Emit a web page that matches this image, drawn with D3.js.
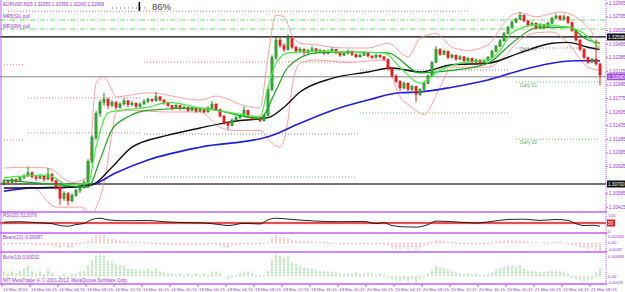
<!DOCTYPE html>
<html lang="en">
<head>
<meta charset="UTF-8">
<title>EURUSD M15</title>
<script src="https://d3js.org/d3.v7.min.js"></script>
<style>
  body { margin: 0; background: #fff; }
  svg text { font-family: "Liberation Sans", Arial, sans-serif; }
</style>
</head>
<body>
<script>
// ---- data (prices in pips above 1.30000) ----
const ohlc = [
  [71,76,68,74],[74,76,70,72],[72,78,71,76],[76,77,71,73],[73,80,72,78],[78,82,76,80],[80,91,79,84],[84,86,77,79],
  [79,80,74,77],[77,83,76,80],[80,81,73,76],[76,90,75,82],[82,84,72,74],[74,75,63,66],[66,68,44,52],[52,61,49,58],
  [58,60,43,49],[49,58,47,56],[56,64,54,62],[62,68,59,66],[66,75,64,72],[72,101,70,98],[98,131,95,128],[128,161,125,158],
  [158,175,154,172],[172,184,168,176],[176,178,164,168],[168,175,166,172],[172,174,163,166],[166,172,164,170],[170,177,168,174],[174,175,166,169],
  [169,174,167,171],[171,172,164,167],[167,172,165,170],[170,176,169,173],[173,178,171,176],[176,177,172,174],[174,185,173,179],[179,180,173,175],
  [175,176,169,171],[171,173,166,168],[168,169,162,165],[165,170,164,168],[168,169,162,164],[164,168,163,166],[166,167,160,162],[162,167,161,165],
  [165,166,159,161],[161,165,160,163],[163,164,158,160],[160,167,159,165],[165,174,164,170],[170,171,161,163],[163,164,153,155],[155,156,144,146],
  [146,148,138,143],[143,152,142,150],[150,155,148,153],[153,158,151,156],[156,167,155,162],[162,163,152,154],[154,156,149,151],[151,155,150,153],
  [153,154,147,149],[149,158,148,156],[156,191,155,188],[188,231,186,228],[228,254,225,250],[250,253,240,243],[243,246,235,238],[238,257,237,252],
  [252,253,239,241],[241,243,233,236],[236,241,234,238],[238,240,231,234],[234,239,233,237],[237,242,235,239],[239,240,233,235],[235,239,234,237],
  [237,238,231,233],[233,238,232,236],[236,241,235,238],[238,239,232,234],[234,235,229,231],[231,235,230,233],[233,238,232,236],[236,237,230,232],
  [232,233,227,229],[229,233,228,231],[231,236,230,234],[234,235,228,230],[230,231,226,228],[228,233,227,231],[231,232,227,229],[229,230,224,226],
  [226,227,212,214],[214,216,203,205],[205,207,196,198],[198,200,186,190],[190,198,188,196],[196,197,186,188],[188,194,186,192],[192,193,172,182],
  [182,190,180,188],[188,198,187,196],[196,207,195,205],[205,224,204,222],[222,242,221,238],[238,240,230,232],[232,238,231,236],[236,237,226,228],
  [228,233,227,231],[231,232,224,226],[226,231,225,229],[229,230,222,224],[224,229,223,227],[227,228,220,222],[222,227,221,225],[225,226,219,221],
  [221,226,220,224],[224,230,223,228],[228,238,227,236],[236,244,235,242],[242,251,241,249],[249,260,248,258],[258,268,257,266],[266,274,265,272],
  [272,278,271,276],[276,285,275,281],[281,282,272,274],[274,275,266,268],[268,273,267,271],[271,272,263,265],[265,271,264,269],[269,270,264,266],
  [266,273,265,271],[271,279,270,277],[277,283,276,280],[280,281,274,276],[276,282,275,279],[279,280,270,272],[272,273,260,262],[262,263,248,250],
  [250,251,236,238],[238,240,226,228],[228,229,220,222],[222,228,221,226],[226,250,218,220],[220,222,193,206]
];

// indicator lines: [bar, pips]
const maBlue = [[0,61],[7,65],[16,66],[22,69],[28,84],[36,100],[49,116],[66,129],[74,146],[82,162],[91,175],[99,184],[104,185],[112,191],[121,200],[129,212],[137,221],[143,224],[149,224]];
const maBlack = [[0,65],[16,66],[22,69],[27,91],[32,116],[41,131],[49,140],[57,148],[66,153],[70,166],[74,185],[82,202],[91,210],[97,215],[104,210],[112,219],[121,221],[129,234],[137,246],[141,247],[146,241],[149,238]];
const maFast = [[0,78],[11,81],[16,69],[21,71],[23,116],[26,159],[29,162],[36,166],[41,172],[49,165],[57,159],[64,154],[66,191],[68,221],[71,234],[78,236],[86,235],[95,234],[99,216],[104,196],[109,212],[114,221],[121,225],[124,237],[127,259],[133,269],[141,266],[146,254],[149,238]];
const maSlow = [[0,75],[16,68],[21,66],[24,100],[27,138],[31,154],[36,162],[49,165],[64,152],[68,187],[71,216],[78,234],[86,235],[96,234],[104,209],[112,212],[121,221],[127,246],[133,265],[141,266],[146,250],[149,246]];
const bandUpper = [[0,90],[6,91],[11,90],[17,72],[21,79],[23,196],[25,204],[27,187],[28,179],[36,184],[49,175],[53,180],[60,168],[64,165],[66,230],[68,281],[70,279],[72,256],[74,246],[78,244],[82,241],[86,240],[91,240],[96,246],[101,229],[104,252],[108,258],[112,241],[116,237],[121,244],[125,271],[127,281],[129,284],[133,279],[139,285],[144,275],[147,259],[149,241]];
const bandLower = [[0,62],[7,66],[13,41],[19,41],[21,35],[22,28],[23,40],[25,71],[27,134],[28,160],[32,162],[41,160],[49,160],[54,141],[57,137],[64,137],[67,121],[69,116],[71,150],[72,191],[74,221],[78,225],[86,222],[95,225],[99,179],[102,166],[105,157],[109,191],[112,216],[121,216],[125,229],[129,250],[133,259],[137,260],[141,246],[146,216],[149,212]];

// RSI [bar, value]
const rsi = [[0,55],[4,58],[8,52],[12,46],[14,34],[16,30],[18,40],[20,48],[22,72],[24,80],[26,70],[30,64],[36,66],[40,58],[46,52],[50,50],[54,40],[56,34],[60,48],[64,44],[66,70],[68,80],[72,72],[78,62],[84,58],[90,60],[93,46],[95,52],[97,34],[100,26],[103,24],[106,40],[108,62],[112,58],[118,50],[122,60],[126,72],[130,74],[134,66],[138,72],[141,66],[143,46],[145,34],[147,36],[149,30]];

// Bears / Bulls power per bar, in pips
const bears = [-2,-1,-2,-1,-1,-2,-1,-2,-3,-2,-3,-2,-3,-4,-5,-3,-5,-4,-2,-1,-1,
  2,5,8,8,7,5,4,3,3,2,2,1,1,1,1,
  -1,-1,-2,-1,-2,-2,-3,-2,-2,-3,-2,-2,-3,-2,-3,-2,-1,-2,-3,-4,-5,-3,-2,-2,-1,-2,-2,-1,-2,-1,
  1,5,7,6,5,4,3,3,2,2,2,1,1,1,1,
  -1,-1,0,-1,-2,-1,-1,-2,-2,-1,-1,-2,-2,-1,-2,
  -3,-5,-6,-6,-5,-6,-5,-6,-5,-3,-2,
  1,3,3,2,1,1,
  -1,-1,-2,-1,-2,-2,-1,-2,-1,
  1,2,2,3,3,3,3,2,2,1,1,1,0,1,
  -1,0,1,1,0,-1,
  -2,-3,-4,-5,-6,-5,-6,-8.7];
const bulls = [2,1,2,1,2,3,4,2,1,2,1,3,1,0,-1,1,-1,1,1,2,2,
  4,6,8,8.5,8,6,5.5,4.5,4,4,3,3,2.5,2.5,2.5,3,2,3,2,1.5,
  1,1,0.5,1,0.5,1,0.5,1,0.5,1,0.5,1.5,2,1,0,-1,-0.5,0.5,1,1.5,2,1,0.5,0.5,0.5,
  2,6,8.5,8,7,7.5,5.5,4.5,4,3.5,3,3,2.5,2,2,2,1.5,1.5,1,1,
  1,1,1.5,1,1,1.5,1,0.5,1,0.5,
  -0.5,-1,-1.5,-2,-1,-2,-1,-2.5,-1,0.5,1,
  2.5,4,3.5,3,2.5,2,
  1.5,1,1,1,0.5,1,0.5,0.5,1,
  1.5,2.5,3,3.5,4,4,3.5,4,3,2.5,2,2,1.5,1.5,
  2,2.5,2.5,2,1.5,1,
  -0.5,-1,-1.5,-2,-1.5,-1,1.5,3.2];

// horizontal levels (price)
const pullLevels = [1.32750, 1.32638];
const resistLevel = 1.32538;
const bidPrice = 1.32040;
const supportLevel = 1.30700;
// pivot segments [fromBar, toBar, price]
const pinkPivots = [[0,5,1.32190],[0,5,1.31250],[6,34,1.31775],[6,34,1.31338],[35,88,1.32225],[1,116,1.32860]];
const grayPivots = [[35,89,1.31325],[89,126,1.32125],[128,149,1.32400]];
const greenPivots = [[35,88,1.30788],[89,126,1.31588],[128,149,1.31975],[128,149,1.31260]];

const priceTicks = [1.32965,1.32795,1.32625,1.32455,1.32285,1.32115,1.31945,1.31775,1.31605,1.31435,1.31265,1.31095,1.30925,1.30585,1.30415];
const timeLabels = ["15 Mar 2012","16 Mar 00:15","16 Mar 04:15","16 Mar 08:15","16 Mar 12:15","16 Mar 16:15","16 Mar 20:15",
  "19 Mar 00:15","19 Mar 04:15","19 Mar 08:15","19 Mar 12:15","19 Mar 16:15","19 Mar 20:15",
  "20 Mar 00:15","20 Mar 04:15","20 Mar 08:15","20 Mar 12:15","20 Mar 16:15","20 Mar 20:15",
  "21 Mar 00:15","21 Mar 04:15","21 Mar 08:15"];
const labelEvery = 7;

// ---- layout ----
const width = 625, height = 292;
const axisX = 606;
const purple = "#c25cff", textPurple = "#9a30d8";
const toPrice = p => 1.30 + p / 10000;

const svg = d3.select("body").append("svg")
  .attr("width", width).attr("height", height);

const x = d3.scaleLinear().domain([0, 149]).range([4, 600]);
const y = d3.scaleLinear().domain([1.3035, 1.3300]).range([212, 0]);
const yRsi = d3.scaleLinear().domain([0, 100]).range([231, 215]);
const yBears = d3.scaleLinear().domain([-0.00087, 0.00094]).range([252, 233]);
const yBulls = d3.scaleLinear().domain([-0.00029, 0.00088]).range([284, 253]);

const main = svg.append("g");
main.append("clipPath").attr("id", "mainclip").append("rect")
  .attr("x", 0).attr("y", 0).attr("width", axisX).attr("height", 211);
const plot = main.append("g").attr("clip-path", "url(#mainclip)");

// pivot segments
function seg(list, color) {
  plot.selectAll(null).data(list).enter().append("line")
    .attr("x1", d => x(d[0])).attr("x2", d => x(d[1]))
    .attr("y1", d => y(d[2])).attr("y2", d => y(d[2]))
    .attr("stroke", color).attr("stroke-width", 1).attr("stroke-dasharray", "1,2");
}
seg(pinkPivots, "#ff7070");
seg(grayPivots, "#8a8a8a");
seg(greenPivots, "#66cc66");

// full width lines
plot.selectAll(null).data(pullLevels).enter().append("line")
  .attr("x1", 0).attr("x2", axisX).attr("y1", d => y(d)).attr("y2", d => y(d))
  .attr("stroke", "#66dd66").attr("stroke-dasharray", "5,2,1,2");
plot.append("line").attr("x1", 0).attr("x2", axisX).attr("y1", y(resistLevel)).attr("y2", y(resistLevel))
  .attr("stroke", "#000").attr("stroke-width", 1.2);
plot.append("line").attr("x1", 0).attr("x2", axisX).attr("y1", y(bidPrice)).attr("y2", y(bidPrice))
  .attr("stroke", "#888").attr("stroke-width", 1);
plot.append("line").attr("x1", 0).attr("x2", axisX).attr("y1", y(supportLevel)).attr("y2", y(supportLevel))
  .attr("stroke", "#444").attr("stroke-width", 1.5);

// daily labels
const dl = plot.append("g").attr("font-size", 4.6);
dl.append("text").attr("x", x(129)).attr("y", y(1.32400) + 3).attr("fill", "#888").text("Daily PP");
dl.append("text").attr("x", x(129)).attr("y", y(1.31975) + 5).attr("fill", "#55bb55").text("Daily S1");
dl.append("text").attr("x", x(129)).attr("y", y(1.31260) + 5).attr("fill", "#55bb55").text("Daily S2");

// bands and moving averages
function curve(pts, color, w) {
  plot.append("path").datum(pts)
    .attr("d", d3.line().x(d => x(d[0])).y(d => y(toPrice(d[1]))).curve(d3.curveMonotoneX))
    .attr("fill", "none").attr("stroke", color).attr("stroke-width", w);
}
curve(bandUpper, "#ff8888", 0.8);
curve(bandLower, "#ff8888", 0.8);
curve(maBlue, "#1e1ee6", 1.6);
curve(maBlack, "#111", 1.4);

// candles
const bars = plot.selectAll(".c").data(ohlc).enter().append("g");
bars.append("line")
  .attr("x1", (d, i) => x(i)).attr("x2", (d, i) => x(i))
  .attr("y1", d => y(toPrice(d[1]))).attr("y2", d => y(toPrice(d[2])))
  .attr("stroke", d => d[3] >= d[0] ? "#108a10" : "#ff1a1a").attr("stroke-width", 1);
bars.append("rect")
  .attr("x", (d, i) => x(i) - 1.1).attr("width", 2.2)
  .attr("y", d => y(toPrice(Math.max(d[0], d[3]))))
  .attr("height", d => Math.max(1, Math.abs(y(toPrice(d[0])) - y(toPrice(d[3])))))
  .attr("fill", d => d[3] >= d[0] ? "#2fb52f" : "#ff1a1a")
  .attr("stroke", d => d[3] >= d[0] ? "#0b5e0b" : "#e00000").attr("stroke-width", 0.4);

curve(maSlow, "#1aa81a", 1.2);
curve(maFast, "#44ee44", 1.2);

// ---- sub-windows ----
// RSI
svg.append("rect").attr("x", 0).attr("width", axisX).attr("y", yRsi(60)).attr("height", yRsi(40) - yRsi(60))
  .attr("fill", "#ffdede");
svg.append("line").attr("x1", 0).attr("x2", axisX).attr("y1", yRsi(50)).attr("y2", yRsi(50))
  .attr("stroke", "#e02020").attr("stroke-width", 1.4);
svg.append("path").datum(rsi)
  .attr("d", d3.line().x(d => x(d[0])).y(d => yRsi(d[1])).curve(d3.curveMonotoneX))
  .attr("fill", "none").attr("stroke", "#111").attr("stroke-width", 0.9);

// Bears
svg.selectAll(".bear").data(bears).enter().append("line")
  .attr("x1", (d, i) => x(i)).attr("x2", (d, i) => x(i))
  .attr("y1", yBears(0)).attr("y2", d => yBears(d / 10000))
  .attr("stroke", "#ff6a6a").attr("stroke-width", 1).attr("stroke-dasharray", "1,0.6");

// Bulls
svg.selectAll(".bull").data(bulls).enter().append("line")
  .attr("x1", (d, i) => x(i)).attr("x2", (d, i) => x(i))
  .attr("y1", yBulls(0)).attr("y2", d => yBulls(d / 10000))
  .attr("stroke", "#4cc24c").attr("stroke-width", 1).attr("stroke-dasharray", "1,0.6");

// frames
[212, 233, 252, 284].forEach(v => {
  svg.append("line").attr("x1", 0).attr("x2", axisX + 1).attr("y1", v).attr("y2", v)
    .attr("stroke", purple).attr("stroke-width", 1.6);
});
svg.append("line").attr("x1", 1).attr("x2", 1).attr("y1", 0).attr("y2", 284).attr("stroke", purple);
svg.append("line").attr("x1", axisX).attr("x2", axisX).attr("y1", 0).attr("y2", 284)
  .attr("stroke", purple).attr("stroke-dasharray", "1,1");

// ---- right axis ----
const axisG = svg.append("g").attr("transform", `translate(${axisX},0)`)
  .call(d3.axisRight(y).tickValues(priceTicks).tickFormat(d3.format(".5f")).tickSize(2).tickPadding(1));
axisG.select(".domain").remove();
axisG.selectAll("line").attr("stroke", purple);
axisG.selectAll("text").attr("fill", textPurple).attr("font-size", 4.6).attr("font-family", "Liberation Sans");

function boxLabel(val, bg, yy, fg) {
  svg.append("rect").attr("x", axisX + 1).attr("y", yy - 3.5).attr("width", 18).attr("height", 7).attr("fill", bg);
  svg.append("text").attr("x", axisX + 2).attr("y", yy + 1.7).attr("fill", fg).attr("font-size", 4.6).text(val);
}
boxLabel(d3.format(".5f")(resistLevel), "#111", y(resistLevel), "#fff");
boxLabel(d3.format(".5f")(bidPrice), "#a050e8", y(bidPrice), "#fff");
boxLabel(d3.format(".5f")(supportLevel), "#111", y(supportLevel), "#fff");

function sideText(t, yy, fs) {
  svg.append("text").attr("x", axisX + 2).attr("y", yy + 1.5).attr("fill", textPurple)
    .attr("font-size", fs || 4.4).text(t);
}
sideText("100", yRsi(100));
sideText("0", yRsi(0));
svg.append("rect").attr("x", axisX + 1).attr("y", yRsi(50) - 3.5).attr("width", 8).attr("height", 7).attr("fill", "#e02020");
svg.append("text").attr("x", axisX + 2).attr("y", yRsi(50) + 1.7).attr("fill", "#fff").attr("font-size", 4.6).text("50");
sideText("0.00094", 236);
sideText("0.00", yBears(0));
sideText("-0.00087", 249.5, 3.7);
sideText("0.00088", 256);
sideText("0.00", yBulls(0));
sideText("-0.00029", 282.5, 3.7);

// ---- bottom time axis ----
const tg = svg.append("g");
tg.selectAll("line").data(timeLabels).enter().append("line")
  .attr("x1", (d, i) => x(i * labelEvery) - 2).attr("x2", (d, i) => x(i * labelEvery) - 2)
  .attr("y1", 284).attr("y2", 287).attr("stroke", purple);
tg.selectAll("text").data(timeLabels).enter().append("text")
  .attr("x", (d, i) => x(i * labelEvery) - 1).attr("y", 290.5)
  .attr("fill", textPurple).attr("font-size", 4.4).text(d => d);

// ---- captions ----
const cap = svg.append("g").attr("fill", textPurple).attr("font-size", 4.6);
cap.append("text").attr("x", 3).attr("y", 6).text("EURUSD,M15  1.32350 1.32359 1.32060 1.32069");
cap.append("text").attr("x", 3).attr("y", 18).text("MR5(S1) pull");
cap.append("text").attr("x", 3).attr("y", 28).text("MR3(R4) pull");
cap.append("text").attr("x", 3).attr("y", 217).text("RSI(20) 33.2076");
cap.append("text").attr("x", 3).attr("y", 239).text("Bears(13) -0.00087");
cap.append("text").attr("x", 3).attr("y", 259).text("Bulls(13) 0.00032");
cap.append("text").attr("x", 3).attr("y", 282).text("MIT MetaTrader 4, \u00a9 2001-2012, MetaQuotes Software Corp.");

// progress gauge
svg.append("line").attr("x1", 112).attr("x2", 148).attr("y1", 8).attr("y2", 8)
  .attr("stroke", "#666").attr("stroke-dasharray", "1,3");
svg.append("rect").attr("x", 138.5).attr("y", 2).attr("width", 1.6).attr("height", 9).attr("fill", "#111");
svg.append("text").attr("x", 152).attr("y", 10).attr("font-size", 9.5).attr("fill", "#444").text("86%");
</script>
</body>
</html>
